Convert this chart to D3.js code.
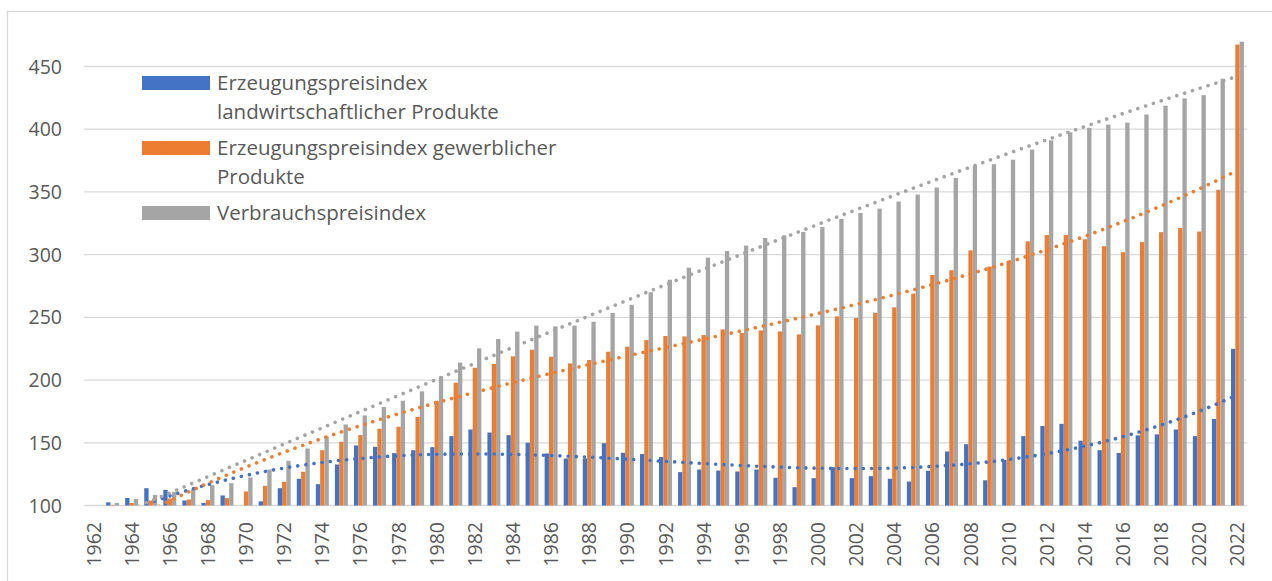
<!DOCTYPE html>
<html>
<head>
<meta charset="utf-8">
<script src="https://cdn.jsdelivr.net/npm/d3@7"></script>
<style>
    body { margin: 0; background: #fff; }
    text { font-family: "Open Sans", Lato, sans-serif; fill: #595959; }
</style>
</head>
<body>
<div id="graph1"></div>
<script>
// Years on the x axis
let years = d3.range(1962, 2023);

// Erzeugungspreisindex landwirtschaftlicher Produkte
let agrar = [100, 102.5, 106, 113.8, 112.5, 104, 102, 108, 100, 103.3, 113.8, 121.3, 117, 132.7, 147.9,
    146.8, 141.8, 144.1, 146.5, 155.3, 160.6, 158.2, 156.1, 150, 141.5, 137.5, 137.5, 149.7, 142, 141,
    138.7, 126.6, 128.7, 127.9, 127.1, 128.7, 122.1, 114.6, 121.8, 130.6, 121.8, 123.4, 121.3, 119.1, 127.7,
    143.1, 148.9, 120.1, 136.3, 155.3, 163.4, 165.1, 151.7, 144.1, 141.9, 155.9, 156.7, 160.6, 155.3, 169,
    224.9];

// Erzeugungspreisindex gewerblicher Produkte
let gewerbe = [100, 100.5, 102, 104, 105.6, 104.8, 104.3, 105.9, 111.2, 115.7, 118.9, 126.9, 144.1, 150.8, 156.1,
    161.2, 162.8, 170.7, 183.5, 197.9, 209.8, 212.8, 218.9, 224.2, 218.6, 213.3, 216, 222.6, 226.6, 231.9,
    235.1, 234.8, 235.9, 240.4, 237.5, 239.6, 238.8, 236.4, 243.6, 250.8, 249.5, 253.7, 258, 268.9, 283.8,
    287.6, 303.4, 290.5, 295, 310.6, 315.6, 315.6, 312.3, 306.7, 302, 310, 317.9, 321.2, 318.4, 351.7,
    467.5];

// Verbraucherpreisindex
let verbrauch = [100, 102, 105.2, 108.4, 110.8, 112.9, 116.2, 117.8, 122.3, 128.7, 135.6, 145.5, 155, 164.6, 171.8,
    178.5, 183.5, 191, 203, 214, 225.3, 232.7, 238.6, 243.4, 242.8, 243.4, 246.5, 253.5, 260, 270,
    280, 289.6, 297.6, 302.9, 307.2, 313.3, 315.4, 318.1, 322, 328.5, 333.2, 336.7, 342.3, 347.9, 353.5,
    361.2, 370.7, 372.1, 375.7, 383.8, 391.1, 397.5, 401.1, 403.6, 405.3, 411.7, 418.7, 424.6, 427.1, 440.2,
    469.8];

let legend_lines = [["Erzeugungspreisindex", "landwirtschaftlicher Produkte"],
    ["Erzeugungspreisindex gewerblicher", "Produkte"],
    ["Verbrauchspreisindex"]];
let colors = ["#4472C4", "#ED7D31", "#A5A5A5"];
let y_ticks = [100, 150, 200, 250, 300, 350, 400, 450];

let width = 1272, height = 581;
let plot = {left: 84, right: 1247, top: 66.5, bottom: 505.5};

let svg = d3.select("#graph1")
    .append("svg")
    .attr("width", width)
    .attr("height", height);

// Chart border
svg.append("rect")
    .attr("x", 7.5).attr("y", 11.5)
    .attr("width", 1300).attr("height", 700)
    .style("fill", "none")
    .style("stroke", "#d9d9d9")
    .style("stroke-width", 1.3);

let x = d3.scaleBand()
    .domain(years)
    .range([plot.left, plot.right])
    .paddingInner(0.32)
    .paddingOuter(0.16);

let x_inner = d3.scaleBand()
    .domain([0, 1, 2])
    .range([0, x.bandwidth()]);

let y = d3.scaleLinear()
    .domain([100, 450])
    .range([plot.bottom, plot.top]);

// Gridlines
svg.append("g")
    .selectAll("line")
    .data(y_ticks)
    .enter()
    .append("line")
    .attr("x1", plot.left)
    .attr("x2", plot.right)
    .attr("y1", d => y(d))
    .attr("y2", d => y(d))
    .style("stroke", "#d9d9d9")
    .style("stroke-width", 1.3);

// Y axis labels
svg.append("g")
    .selectAll("text")
    .data(y_ticks)
    .enter()
    .append("text")
    .attr("x", 62)
    .attr("y", d => y(d))
    .attr("dy", "0.36em")
    .attr("text-anchor", "end")
    .style("font-size", "19.5px")
    .text(d => d);

// X axis labels (every second year)
svg.append("g")
    .selectAll("text")
    .data(years.filter(d => (d - 1962) % 2 === 0))
    .enter()
    .append("text")
    .attr("transform", d => `translate(${x(d) + x.bandwidth() / 2 + 7}, 522) rotate(-90)`)
    .attr("text-anchor", "end")
    .style("font-size", "19.5px")
    .text(d => d);

// Bars
let all_series = [agrar, gewerbe, verbrauch];
let bars = svg.append("g");
all_series.forEach(function (values, s) {
    bars.selectAll(".bar" + s)
        .data(values)
        .enter()
        .append("rect")
        .attr("x", (d, i) => x(years[i]) + x_inner(s))
        .attr("width", x_inner.bandwidth())
        .attr("y", d => y(Math.max(d, 100)))
        .attr("height", d => y(100) - y(Math.max(d, 100)))
        .style("fill", colors[s]);
});

// Polynomial (order 3) trendlines, least squares
function polyFit(xs, ys, order) {
    let n = order + 1;
    let A = [];
    for (let r = 0; r < n; r++) {
        A.push([]);
        for (let c = 0; c <= n; c++) A[r].push(0);
    }
    for (let k = 0; k < xs.length; k++) {
        for (let r = 0; r < n; r++) {
            for (let c = 0; c < n; c++) A[r][c] += Math.pow(xs[k], r + c);
            A[r][n] += ys[k] * Math.pow(xs[k], r);
        }
    }
    // Gauss elimination
    for (let i = 0; i < n; i++) {
        let p = i;
        for (let r = i + 1; r < n; r++) if (Math.abs(A[r][i]) > Math.abs(A[p][i])) p = r;
        [A[i], A[p]] = [A[p], A[i]];
        for (let r = i + 1; r < n; r++) {
            let f = A[r][i] / A[i][i];
            for (let c = i; c <= n; c++) A[r][c] -= f * A[i][c];
        }
    }
    let coef = new Array(n).fill(0);
    for (let i = n - 1; i >= 0; i--) {
        let s = A[i][n];
        for (let c = i + 1; c < n; c++) s -= A[i][c] * coef[c];
        coef[i] = s / A[i][i];
    }
    return t => coef.reduce((acc, a, i) => acc + a * Math.pow(t, i), 0);
}

svg.append("clipPath")
    .attr("id", "plot-clip")
    .append("rect")
    .attr("x", plot.left)
    .attr("y", 12)
    .attr("width", plot.right - plot.left)
    .attr("height", plot.bottom - 12 - 1);

let idx = years.map((d, i) => (i + 1) / 61);
let trend_group = svg.append("g").attr("clip-path", "url(#plot-clip)");
all_series.forEach(function (values, s) {
    let f = polyFit(idx, values, 3);
    let pts = d3.range(0, 60.01, 0.25).map(t => [x(years[0]) + x.bandwidth() / 2 + t * x.step(), y(f((t + 1) / 61))]);
    trend_group.append("path")
        .attr("d", d3.line()(pts))
        .style("fill", "none")
        .style("stroke", colors[s])
        .style("stroke-width", 3.6)
        .style("stroke-linecap", "round")
        .style("stroke-dasharray", "0.01,8.2");
});

// Legend
let legend = svg.append("g");
legend_lines.forEach(function (lines, s) {
    let top = 83 + s * 65;
    legend.append("rect")
        .attr("x", 142)
        .attr("y", top - 7)
        .attr("width", 68)
        .attr("height", 14)
        .style("fill", colors[s]);
    lines.forEach(function (line, j) {
        legend.append("text")
            .attr("x", 217)
            .attr("y", top + j * 29)
            .attr("dy", "0.36em")
            .style("font-size", "20.5px")
            .text(line);
    });
});
</script>
</body>
</html>
